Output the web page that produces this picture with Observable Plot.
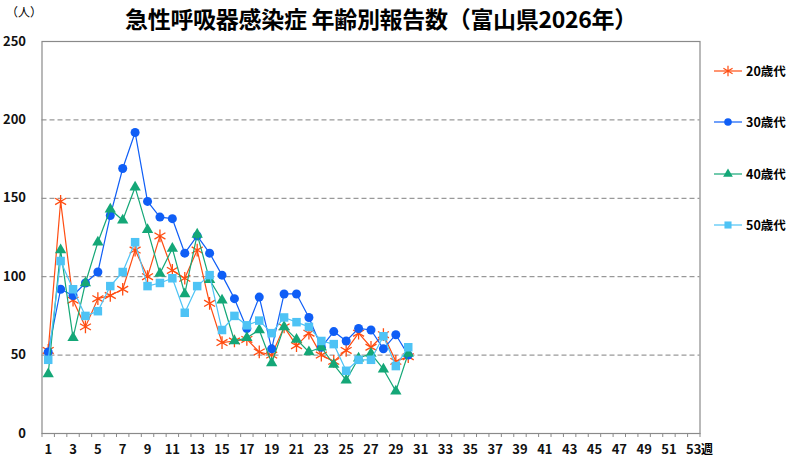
<!DOCTYPE html>
<html><head><meta charset="utf-8">
<script src="https://cdn.jsdelivr.net/npm/d3@7"></script>
<script src="https://cdn.jsdelivr.net/npm/@observablehq/plot@0.6"></script>
<style>
body{margin:0;background:#fff;font-family:"Noto Sans CJK JP","Noto Sans",sans-serif;}
#wrap{position:relative;width:800px;height:462px;overflow:hidden;}
#title{position:absolute;left:0;width:762px;top:1px;text-align:center;font-size:23px;font-weight:bold;color:#000;letter-spacing:-0.3px;}
#unit{position:absolute;left:6px;top:3px;font-size:12px;color:#000;}
#week{position:absolute;left:701px;top:440px;font-size:12px;font-weight:bold;color:#000;}
#legend{position:absolute;left:714px;top:0;}
.lg{position:absolute;left:0;display:flex;align-items:center;white-space:nowrap;font-size:12.5px;font-weight:bold;color:#000;}
.lg svg{margin-right:2px;}
</style></head>
<body><div id="wrap">
<div id="unit">（人）</div>
<div id="title">急性呼吸器感染症 年齢別報告数（富山県2026年）</div>
<div id="week">週</div>
<div id="legend"></div>
</div>
<script>
const weeks = [1,2,3,4,5,6,7,8,9,10,11,12,13,14,15,16,17,18,19,20,21,22,23,24,25,26,27,28,29,30];
const series = ["20歳代","30歳代","40歳代","50歳代"];
const v20 = [53,148,85,68,86,88,92,117,100,126,104,99,117,83,58,59,60,52,50,68,56,64,50,46,53,64,55,63,46,49];
const v30 = [52,92,88,96,103,139,169,192,148,138,137,115,126,115,101,86,67,87,54,89,89,74,55,65,59,67,66,54,63,50];
const v40 = [38,117,61,96,122,143,136,157,130,102,118,89,127,98,85,59,61,66,45,68,60,52,55,44,34,48,51,41,27,51];
const v50 = [47,110,92,75,78,94,103,122,94,96,99,77,94,101,66,75,69,72,64,74,71,68,59,57,40,47,47,62,43,55];
const yTicks = [0,50,100,150,200,250];
const gridVals = [50,100,150,200];
const xLabelTicks = d3.range(1,54,2);
const xBoundaryTicks = d3.range(0.5,54,1);

const colors = ["#FF4D12","#0F5EF6","#14A777","#4EC3F5"];
const symbols = ["asterisk","circle","triangle","square"];
const radii = [6,4.5,4.2,4.8];
const vals = [v20,v30,v40,v50];

const data = [];
series.forEach((s,i)=>weeks.forEach((w,j)=>data.push({series:s,week:w,value:vals[i][j]})));

const marks = [
  Plot.ruleY(gridVals,{stroke:"#808080",strokeDasharray:"5,3",strokeWidth:1}),
  Plot.frame({stroke:"#8a8a8a",strokeWidth:1.2}),
  Plot.axisX({ticks:xBoundaryTicks,tickSize:4,tickFormat:()=>"",stroke:"#8a8a8a",label:null}),
  Plot.axisX({ticks:xLabelTicks,tickSize:0,tickPadding:11,fontSize:13,fontWeight:"bold",fill:"#111",label:null}),
  Plot.axisY({ticks:yTicks,tickSize:0,tickPadding:16,fontSize:13,fontWeight:"bold",fill:"#111",label:null})
];
series.forEach((s,i)=>{
  const d = data.filter(e=>e.series===s);
  marks.push(Plot.line(d,{x:"week",y:"value",stroke:colors[i],strokeWidth:1.2}));
  if(symbols[i]==="asterisk"){
    marks.push(Plot.dot(d,{x:"week",y:"value",symbol:"asterisk",r:radii[i],stroke:colors[i],strokeWidth:1.3,fill:"none"}));
  } else {
    marks.push(Plot.dot(d,{x:"week",y:"value",symbol:symbols[i],r:radii[i],fill:colors[i],stroke:"none"}));
  }
});

const chart = Plot.plot({
  width:800,height:462,
  marginLeft:41.5,marginRight:100.5,marginTop:41,marginBottom:29,
  x:{domain:[0.5,53.5],axis:null},
  y:{domain:[0,250],axis:null},
  style:{fontFamily:"'Noto Sans CJK JP','Noto Sans',sans-serif",background:"transparent"},
  marks
});
chart.style.position="absolute";chart.style.left="0";chart.style.top="0";
document.getElementById("wrap").prepend(chart);

const legend = document.getElementById("legend");
const legendY = [70,121,173,224];
const legendR = [5,3.8,3.6,4];
series.forEach((s,i)=>{
  const row = document.createElement("div");
  row.className="lg";
  row.style.top=(legendY[i]-9)+"px";
  const symType = {asterisk:d3.symbolAsterisk,circle:d3.symbolCircle,triangle:d3.symbolTriangle,square:d3.symbolSquare}[symbols[i]];
  const path = d3.symbol(symType, Math.PI*legendR[i]*legendR[i])();
  const fillAttr = symbols[i]==="asterisk" ? `fill="none" stroke="${colors[i]}" stroke-width="1.2"` : `fill="${colors[i]}"`;
  row.innerHTML = `<svg width="30" height="18"><line x1="0" x2="28" y1="9" y2="9" stroke="${colors[i]}" stroke-width="1.2"/><path transform="translate(14,9)" d="${path}" ${fillAttr}/></svg><span>${s}</span>`;
  legend.appendChild(row);
});
</script>
</body></html>
